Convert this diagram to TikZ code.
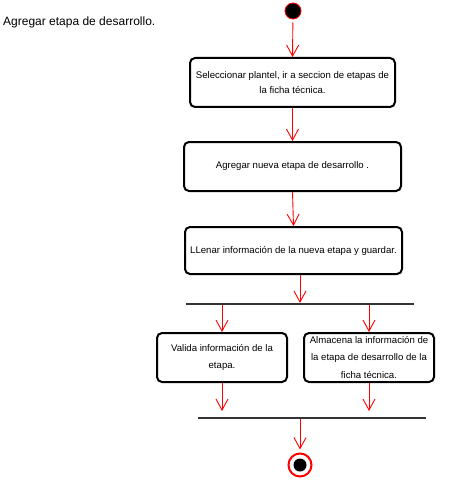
\documentclass[tikz,border=0pt]{standalone}
\usepackage{fontspec}
\setmainfont{Liberation Sans}
\usetikzlibrary{arrows.meta,calc}
\begin{document}
\begin{tikzpicture}[x=1pt,y=-1pt,
  actbox/.style={draw=black,line width=2pt,rounded corners=5pt,fill=white,
    minimum height=49pt,inner sep=0pt,align=center,font=\fontsize{9.6}{15}\selectfont},
  arr/.style={draw=red,line width=0.9pt,-{Straight Barb[length=11pt,width=12pt,line width=0.9pt]}},
  forkbar/.style={fill=black!80,draw=none,minimum height=1.8pt,inner sep=0pt},
  ttl/.style={font=\fontsize{12}{14}\selectfont,inner sep=0pt}]
\useasboundingbox (0,0) rectangle (468,484);
\node[ttl,anchor=base west] (title) at (3,26) {Agregar etapa de desarrollo.};
\node[circle,fill=black,draw=red,line width=0.8pt,minimum size=16pt,inner sep=0pt] (start) at (293,11) {};
\node[actbox,minimum width=205pt] (b1) at (292.5,82.5) {Seleccionar plantel, ir a seccion de etapas de\\la ficha técnica.};
\node[actbox,minimum width=217pt] (b2) at (292.5,166.5) {Agregar nueva etapa de desarrollo .};
\node[actbox,minimum width=217pt,minimum height=47pt] (b3) at (293.5,250.5) {LLenar información de la nueva etapa y guardar.};
\node[forkbar,minimum width=228pt] (f1) at (300,304) {};
\node[actbox,minimum width=130pt,font=\fontsize{9.6}{17}\selectfont] (b4) at (222,357.5) {Valida información de la\\etapa.};
\node[actbox,minimum width=130pt,font=\fontsize{9.6}{17.5}\selectfont] (b5) at (369,357.5) {Almacena la información de\\la etapa de desarrollo de la\\ficha técnica.};
\node[forkbar,minimum width=228pt] (f2) at (312,418) {};
\coordinate (e4) at (222,411);
\coordinate (e5) at (369,411);
\node[circle,draw=red,line width=2pt,fill=white,minimum size=23pt,inner sep=0pt] (end) at (300,465) {};
\node[circle,fill=black,minimum size=13pt,inner sep=0pt] (endin) at (end.center) {};
% connectors
\draw[arr,shorten <=3pt] (start) -- (b1.north);
\draw[arr] (b1.south) -- (b2.north);
\draw[arr] (b2.south) -- (b3.north);
\draw[arr] (b3.south -| f1.center) -- (f1.north);
\draw[arr] (f1.south -| b4.north) -- (b4.north);
\draw[arr] (f1.south -| b5.north) -- (b5.north);
\draw[arr] (b4.south) -- (e4);
\draw[arr] (b5.south) -- (e5);
\draw[arr,shorten >=3pt] (f2.south -| end.north) -- (end.north);
\end{tikzpicture}
\end{document}
